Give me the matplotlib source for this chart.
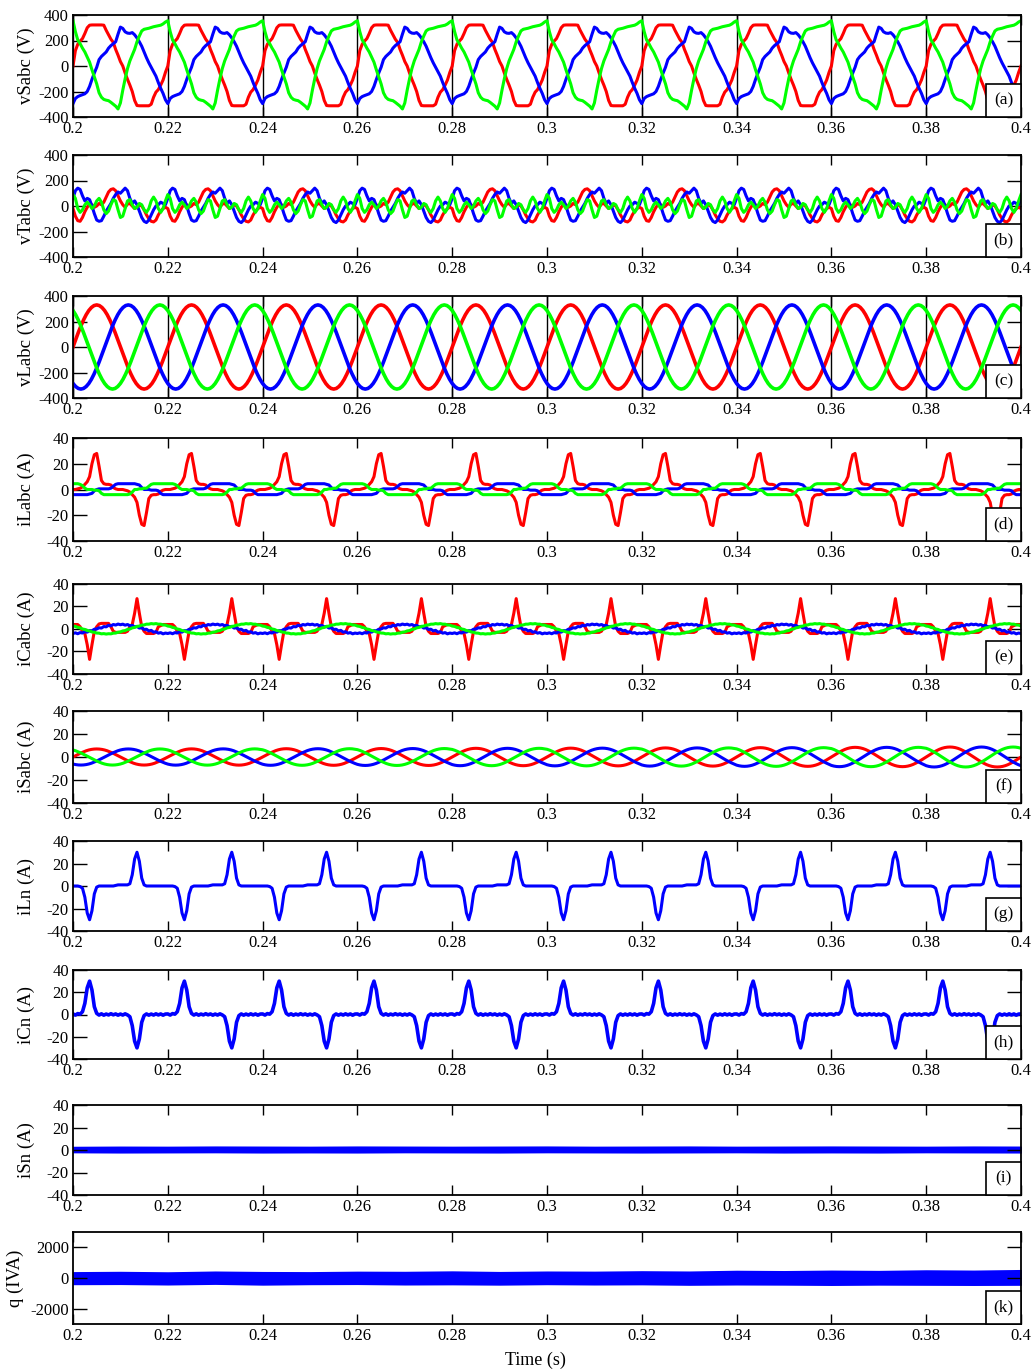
import numpy as np
import matplotlib
matplotlib.use('Agg')
import matplotlib.pyplot as plt
from matplotlib.patches import Rectangle

plt.rcParams['font.family'] = ['Liberation Serif', 'DejaVu Serif']

T0 = 0.2
PERIOD = 0.02
N_CYC = 10

xticks = [0.2, 0.22, 0.24, 0.26, 0.28, 0.3, 0.32, 0.34, 0.36, 0.38, 0.4]
xtick_labels = ['0.2', '0.22', '0.24', '0.26', '0.28', '0.3', '0.32', '0.34', '0.36', '0.38', '0.4']

RED, BLUE, GREEN = '#ff0000', '#0000ff', '#00ff00'

# one 20 ms cycle of each signal (40 samples = 0.5 ms step)
vSa = [0, 120, 170, 195, 215, 255, 300, 320, 322, 322, 322, 322, 322, 320, 280, 245, 210, 185, 130, 85,
       35, 0, -55, -105, -150, -200, -270, -310, -312, -312, -312, -312, -312, -300, -245, -205, -185, -150, -110, -50]
vSb = [-295, -255, -240, -232, -225, -218, -200, -160, -105, -55, -10, 50, 75, 92, 110, 140, 160, 175, 190, 250,
       305, 295, 268, 258, 256, 262, 245, 220, 190, 155, 110, 65, 25, -10, -45, -80, -130, -175, -215, -265]
vSc = [355, 270, 205, 175, 140, 110, 70, 30, -30, -85, -140, -210, -245, -262, -268, -272, -285, -300, -315, -337,
       -290, -190, -100, -20, 40, 85, 130, 190, 235, 275, 288, 292, 296, 302, 308, 312, 316, 320, 330, 345]

vTa = [-20, -80, -115, -120, -90, -45, -10, 15, 10, -10, 0, 20, 10, 30, 70, 110, 130, 135, 120, 80,
       40, 10, -10, 15, 20, 0, -20, -10, 10, 0, -30, -70, -100, -120, -125, -110, -70, -40, -20, -10]
vTb = [60, 120, 140, 130, 80, 40, 60, 50, 0, -60, -110, -120, -115, -80, -40, -10, 20, 60, 90, 110,
       100, 120, 140, 120, 60, 20, 40, 10, -40, -90, -120, -130, -110, -70, -30, 0, 10, 30, 20, 10]
vTc = [90, 60, -20, -50, -30, 10, 30, 10, -20, 0, 40, 60, 30, -30, -60, -40, 10, 50, 40, -30,
       -90, -80, -20, 40, 50, 10, -20, -10, 20, 10, -30, -50, -20, 40, 70, 40, -20, -50, -20, 40]

# load voltage, phase a (36 samples = 10 deg step); b and c are the same wave shifted 120 deg
vLa = [0, 57, 113, 165, 212, 253, 286, 310, 325, 330, 325, 310, 286, 253, 212, 165, 113, 57,
       0, -57, -113, -165, -212, -253, -286, -310, -325, -330, -325, -310, -286, -253, -212, -165, -113, -57]

iLa = [0, 0, 0.5, 1, 2, 4, 6, 10, 20, 27, 28, 18, 7, 4.5, 4, 4, 3.5, 1.5, 0.5, 0,
       0, 0, -0.5, -1, -2, -4, -6, -10, -20, -27, -28, -18, -7, -4.5, -4, -4, -3.5, -1.5, -0.5, 0]
iLb = [-4, -4, -4, -4, -4, -4, -4, -3.5, -3, -1, 0, 0.5, 0.5, 0.5, 0.5, 0.5, 1, 2.5, 4, 4.5,
       4.5, 4.5, 4.5, 4.5, 4.5, 4.5, 4.5, 4, 3.5, 1.5, 0, 0, 0, -0.5, -0.5, -0.5, -1, -3, -4, -4]
iLc = [4.5, 4.5, 4.5, 4, 3, 1, 0, 0, 0, -0.5, -0.5, -1, -3, -4, -4, -4, -4, -4, -4, -4,
       -4, -4, -4, -4, -3.5, -2, 0, 0, 0.5, 0.5, 1, 1, 2.5, 4, 4.5, 4.5, 4.5, 4.5, 4.5, 4.5]

iCa = [4, 4, 4, 2, -2, -4, -14, -27, -14, -2, 2, 4.5, 5, 5, 5, 5, 2, -2, -3, -3,
       -3, -3, -3, -2, 2, 4, 14, 27, 14, 2, -2, -4, -4, -4, -4, -3, 2, 3, 4, 4]
iCb = [-4, -3.4, -4.2, -3.2, -3.6, -2.4, -2.8, -1.4, -1.6, -0.2, 0, 1.1, 0.8, 2.2, 1.9, 3.3, 2.8, 4, 3.5, 4.4,
       3.8, 4.3, 3.4, 4, 2.9, 3.2, 1.9, 2.3, 0.8, 1.1, -0.4, -0.2, -1.7, -1.2, -2.8, -2.4, -3.7, -3.2, -4.3, -3.6]
iCc = [2.6, 2.3, 1.4, 1.0, 0, -0.4, -1.4, -1.7, -2.6, -2.9, -3.6, -3.7, -4.3, -4.1, -4.5, -4.2, -4.3, -3.7, -3.6, -2.9,
       -2.6, -1.7, -1.4, -0.4, 0, 1.0, 1.4, 2.3, 2.6, 3.5, 3.6, 4.3, 4.3, 4.8, 4.5, 4.8, 4.3, 4.3, 3.6, 3.5]

# source current, phase a (36 samples); b, c shifted 120 deg
iSa = [0, 1.2, 2.4, 3.5, 4.5, 5.4, 6.1, 6.6, 6.9, 7, 6.9, 6.6, 6.1, 5.4, 4.5, 3.5, 2.4, 1.2,
       0, -1.2, -2.4, -3.5, -4.5, -5.4, -6.1, -6.6, -6.9, -7, -6.9, -6.6, -6.1, -5.4, -4.5, -3.5, -2.4, -1.2]
iS_scale = [1.0, 1.01, 1.03, 1.05, 1.08, 1.1, 1.13, 1.16, 1.2, 1.24]

iLn = [0, 0, 0, -0.5, -2, -10, -24, -30, -22, -7, -1, 0, 0, 0, 0, 0, 0, 0, 0.5, 1,
       1, 1, 1, 1, 2, 10, 24, 30, 22, 7, 1, 0, 0, 0, 0, 0, 0, 0, 0, 0]
iCn = [0.5, -0.5, 0.8, 0.3, 2.5, 10, 24, 30, 22, 7, 1, -0.5, 0.6, -0.6, 0.4, -0.4, 0.7, -0.3, 0.5, -0.6,
       0.4, -0.5, 0.6, -0.4, -2, -10, -24, -30, -22, -7, -1, 0.5, -0.6, 0.4, -0.5, 0.6, -0.4, 0.5, -0.6, 0.4]

# envelopes of the noise bands, one value every half cycle
iSn_top = [2.4, 2.6, 2.5, 2.7, 2.6, 2.5, 2.7, 2.6, 2.5, 2.6, 2.7, 2.5, 2.6, 2.7, 2.5, 2.6, 2.7, 2.6, 2.5, 2.7, 2.6]
iSn_bot = [-1.6, -1.8, -1.7, -1.6, -1.8, -1.7, -1.8, -1.6, -1.7, -1.8, -1.6, -1.7, -1.8, -1.7, -1.6, -1.8, -1.7, -1.8, -1.6, -1.7, -1.8]
q_top = [350, 370, 340, 390, 360, 350, 380, 370, 400, 360, 390, 380, 410, 390, 440, 420, 450, 430, 470, 450, 490]
q_bot = [-370, -360, -390, -350, -400, -370, -360, -390, -380, -400, -370, -390, -380, -410, -390, -400, -420, -400, -410, -420, -410]

# axes boxes in pixels: (top, bottom)
panel_px = [(15, 117), (155, 257), (296, 398), (438, 541), (584, 674),
            (711, 803), (841, 931), (970, 1059), (1105, 1195), (1232, 1324)]
W, H = 1035, 1369
LEFT, RIGHT = 73, 1021


def waveform(cycle, scale=None):
    cyc = np.asarray(cycle, dtype=float)
    if scale is None:
        scale = [1.0] * N_CYC
    y = np.concatenate([cyc * s for s in scale] + [cyc[:1] * scale[-1]])
    t = T0 + np.arange(len(y)) * PERIOD / len(cyc)
    return t, y


def band_x(n):
    return T0 + np.arange(n) * (0.2 / (n - 1))


def style_axes(ax, ylabel, ylim, yticks, tag, px_h, grid=False, label_x=-0.04):
    ax.set_xlim(0.2, 0.4)
    ax.set_ylim(*ylim)
    ax.set_xticks(xticks)
    ax.set_xticklabels(xtick_labels)
    ax.set_yticks(yticks)
    ax.set_yticklabels([str(v) for v in yticks])
    ax.tick_params(axis='both', direction='in', top=True, right=True, labelsize=12, width=1, pad=3)
    ax.tick_params(axis='x', length=7)
    ax.tick_params(axis='y', length=10)
    for s in ax.spines.values():
        s.set_linewidth(1.3)
    if grid:
        ax.grid(True, axis='x', color='black', lw=1)
        ax.set_axisbelow(True)
    ax.set_ylabel(ylabel, fontsize=13.5)
    ax.yaxis.set_label_coords(label_x, 0.5)
    w = 35 / (RIGHT - LEFT)
    h = 33 / px_h
    ax.add_patch(Rectangle((1 - w, 0), w, h, transform=ax.transAxes, facecolor='white',
                           edgecolor='black', lw=1.2, zorder=5, clip_on=False))
    ax.text(1 - w / 2, h / 2, tag, transform=ax.transAxes, ha='center', va='center',
            fontsize=12.5, zorder=6)


fig = plt.figure(figsize=(W / 100, H / 100), dpi=100)
axes = []
for top, bot in panel_px:
    axes.append(fig.add_axes([LEFT / W, 1 - bot / H, (RIGHT - LEFT) / W, (bot - top) / H]))

v_ticks = [400, 200, 0, -200, -400]
i_ticks = [40, 20, 0, -20, -40]
lw = 2.2

ax = axes[0]
for cyc, c in [(vSa, RED), (vSb, BLUE), (vSc, GREEN)]:
    ax.plot(*waveform(cyc), color=c, lw=lw)
style_axes(ax, 'vSabc (V)', (-400, 400), v_ticks, '(a)', 102, grid=True)

ax = axes[1]
for cyc, c in [(vTa, RED), (vTb, BLUE), (vTc, GREEN)]:
    ax.plot(*waveform(cyc), color=c, lw=lw)
style_axes(ax, 'vTabc (V)', (-400, 400), v_ticks, '(b)', 102)

ax = axes[2]
for cyc, c in [(vLa, RED), (np.roll(vLa, 12), BLUE), (np.roll(vLa, -12), GREEN)]:
    ax.plot(*waveform(cyc), color=c, lw=2.6)
style_axes(ax, 'vLabc (V)', (-400, 400), v_ticks, '(c)', 102, grid=True)

ax = axes[3]
for cyc, c in [(iLa, RED), (iLb, BLUE), (iLc, GREEN)]:
    ax.plot(*waveform(cyc), color=c, lw=lw)
style_axes(ax, 'iLabc (A)', (-40, 40), i_ticks, '(d)', 103)

ax = axes[4]
for cyc, c in [(iCa, RED), (iCb, BLUE), (iCc, GREEN)]:
    ax.plot(*waveform(cyc), color=c, lw=lw)
style_axes(ax, 'iCabc (A)', (-40, 40), i_ticks, '(e)', 90)

ax = axes[5]
for cyc, c in [(iSa, RED), (np.roll(iSa, 12), BLUE), (np.roll(iSa, -12), GREEN)]:
    ax.plot(*waveform(cyc, iS_scale), color=c, lw=lw)
style_axes(ax, 'iSabc (A)', (-40, 40), i_ticks, '(f)', 92)

ax = axes[6]
ax.plot(*waveform(iLn), color=BLUE, lw=lw)
style_axes(ax, 'iLn (A)', (-40, 40), i_ticks, '(g)', 90)

ax = axes[7]
ax.plot(*waveform(iCn), color=BLUE, lw=2.6)
style_axes(ax, 'iCn (A)', (-40, 40), i_ticks, '(h)', 89)

ax = axes[8]
ax.fill_between(band_x(len(iSn_top)), iSn_bot, iSn_top, color=BLUE, lw=1.5, edgecolor=BLUE)
style_axes(ax, 'iSn (A)', (-40, 40), i_ticks, '(i)', 90)

ax = axes[9]
ax.fill_between(band_x(len(q_top)), q_bot, q_top, color=BLUE, lw=1.5, edgecolor=BLUE)
style_axes(ax, 'q (IVA)', (-3000, 3000), [2000, 0, -2000], '(k)', 92, label_x=-0.052)

fig.text(535 / W, 1 - 1360 / H, 'Time (s)', ha='center', va='center', fontsize=13)

fig.savefig('out.png', dpi=100)
